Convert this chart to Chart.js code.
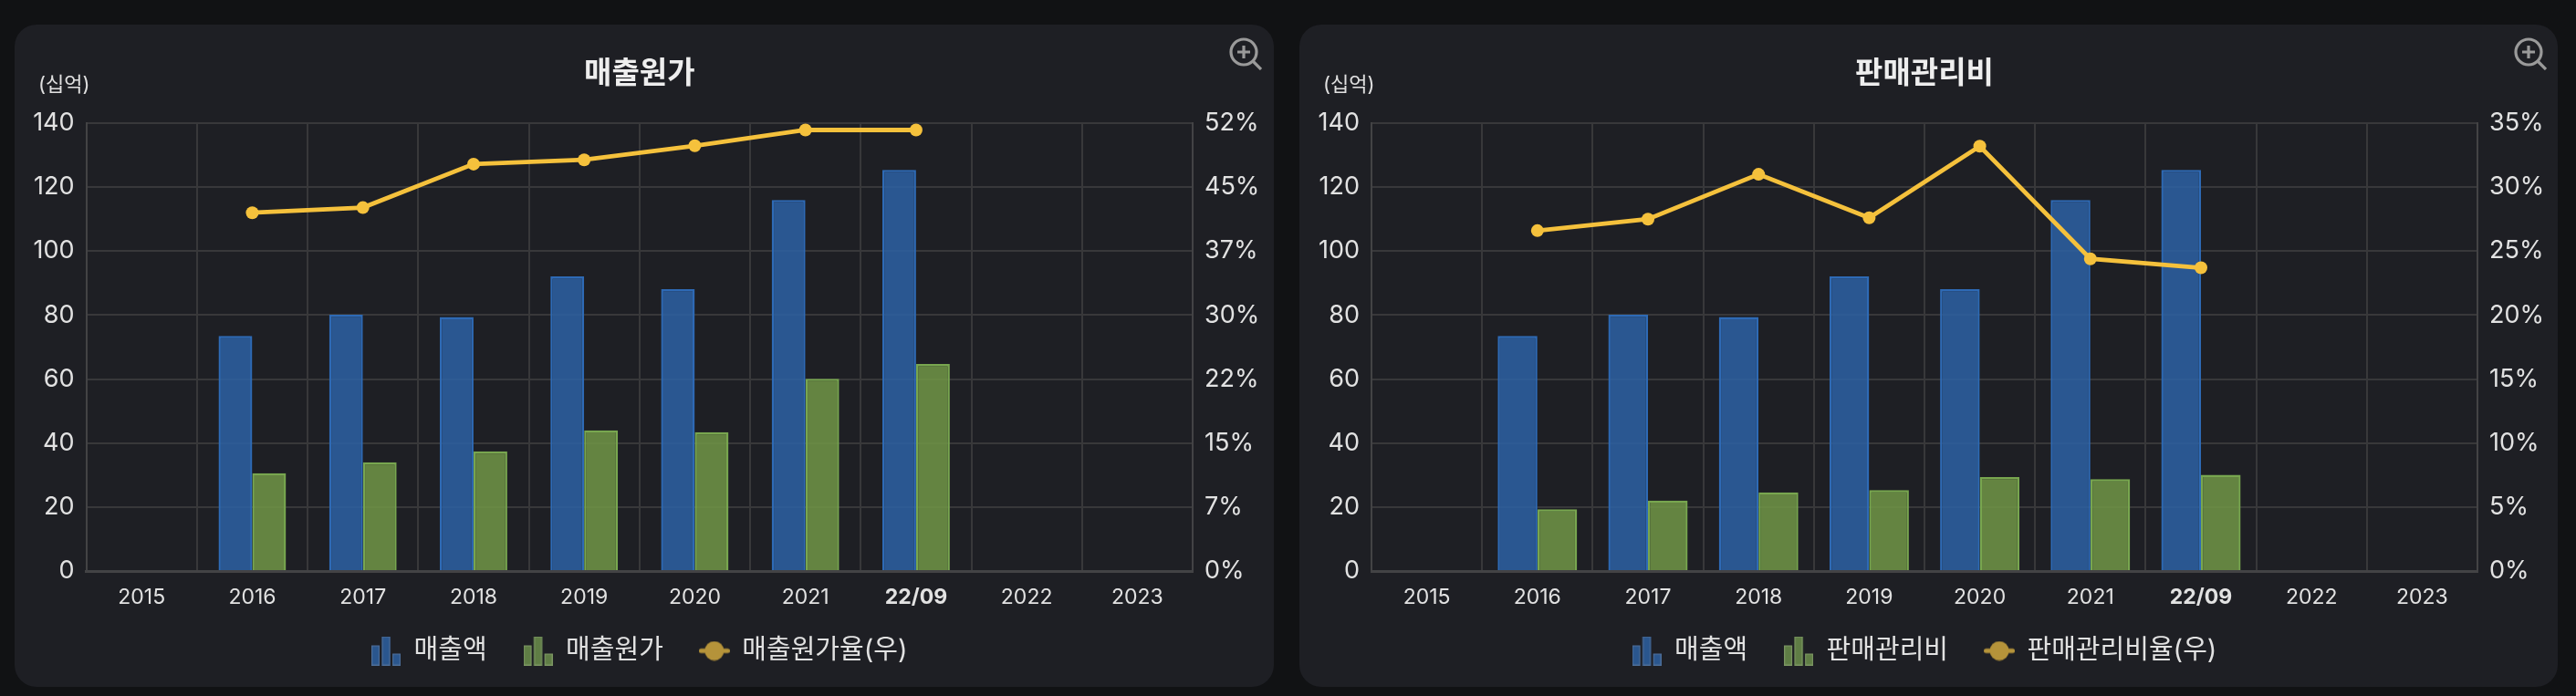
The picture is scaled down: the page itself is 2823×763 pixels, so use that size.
<!DOCTYPE html>
<html lang="ko">
<head>
<meta charset="utf-8">
<title>매출원가 / 판매관리비</title>
<script src="https://cdn.jsdelivr.net/npm/chart.js@4"></script>
<style>
html,body{margin:0;padding:0;background:#111214;width:2823px;height:763px;overflow:hidden;font-family:Inter,"Noto Sans CJK KR",sans-serif}
.card{position:absolute;top:27px;height:726px;background:#1e1f24;border-radius:24px}
.card canvas{position:absolute;left:0;top:0}
.unit{position:absolute;top:52px;color:#e0e0e0;font-size:22px;line-height:26px;white-space:nowrap}
.zoom{position:absolute;top:14px;width:36px;height:36px}
</style>
</head>
<body>
<div class="card" id="c1" style="left:16px;width:1380px">
  <canvas id="chart1" width="1380" height="726"></canvas>
  <div class="unit" style="left:26px">(십억)</div>
  <svg class="zoom" style="left:1331px" viewBox="0 0 36 36" fill="none" stroke="#9a9a9a" stroke-width="3.2"><circle cx="16" cy="16" r="14"/><path d="M9 16h14M16 9v14M26 26l9 9"/></svg>
</div>
<div class="card" id="c2" style="left:1424px;width:1379px">
  <canvas id="chart2" width="1379" height="726"></canvas>
  <div class="unit" style="left:26px">(십억)</div>
  <svg class="zoom" style="left:1331px" viewBox="0 0 36 36" fill="none" stroke="#9a9a9a" stroke-width="3.2"><circle cx="16" cy="16" r="14"/><path d="M9 16h14M16 9v14M26 26l9 9"/></svg>
</div>
<script>
const categories = ['2015','2016','2017','2018','2019','2020','2021','22/09','2022','2023'];
const revenue  = [null,73.5,80.1,79.4,92.1,88.1,116.0,125.4,null,null];
const cogs     = [null,30.6,34.0,37.4,44.0,43.4,60.1,64.7,null,null];
const cogsRate = [null,42.0,42.6,47.7,48.2,49.85,51.7,51.7,null,null];
const sga      = [null,19.3,22.05,24.6,25.3,29.4,28.7,30.05,null,null];
const sgaRate  = [null,26.6,27.5,31.0,27.6,33.2,24.4,23.7,null,null];

const FONT = 'Inter, "Noto Sans CJK KR", sans-serif';
const TEXT = '#e2e2e2', GRID = '#38383a', AXIS = '#434345';

function barIcon(fill, stroke){
  const c = document.createElement('canvas'); c.width = 32; c.height = 32;
  const g = c.getContext('2d'); g.fillStyle = fill; g.strokeStyle = stroke; g.lineWidth = 1.2;
  [[0,10,9,22],[11.5,0,9,32],[23,19,9,13]].forEach(r=>{
    g.fillRect(r[0],r[1],r[2],r[3]); g.strokeRect(r[0]+.6,r[1]+.6,r[2]-1.2,r[3]-1.2);
  });
  return c;
}
function lineIcon(col){
  const c = document.createElement('canvas'); c.width = 34; c.height = 22;
  const g = c.getContext('2d'); g.strokeStyle = col; g.fillStyle = col; g.lineWidth = 5; g.lineCap = 'round';
  g.beginPath(); g.moveTo(2.5,11); g.lineTo(31.5,11); g.stroke();
  g.beginPath(); g.arc(17,11,10.5,0,Math.PI*2); g.fill();
  return c;
}
const liftLegend = {id:'liftLegend', afterLayout(c){ c.legend.top -= 13; c.legend.bottom -= 13; }};

function build(id, title, barName, barData, rateName, rateData, rateMax, rateStep, catPct, rightW, leftW){
  const icons = [barIcon('#2a568e','#4c6d98'), barIcon('#5f7d45','#7b9562'), lineIcon('#b5933a')];
  new Chart(document.getElementById(id), {
    plugins:[liftLegend],
    data: {
      labels: categories,
      datasets: [
        {type:'bar', label:'매출액', data:revenue, yAxisID:'y', order:1,
         backgroundColor:'rgba(44,96,161,.88)', borderColor:'#2e6ab5', borderWidth:2.4,
         categoryPercentage:catPct, barPercentage:1},
        {type:'bar', label:barName, data:barData, yAxisID:'y', order:1,
         backgroundColor:'rgba(110,147,70,.88)', borderColor:'#78a64f', borderWidth:2.4,
         categoryPercentage:catPct, barPercentage:1},
        {type:'line', label:rateName, data:rateData, yAxisID:'y1', order:0,
         borderColor:'#f5c13c', backgroundColor:'#f5c13c', borderWidth:4.8, tension:0,
         pointRadius:7, pointBorderWidth:0, pointBackgroundColor:'#f5c13c', spanGaps:false}
      ]
    },
    options: {
      responsive:false, animation:false, devicePixelRatio:1,
      layout:{padding:{bottom:2}},
      plugins:{
        tooltip:{enabled:false},
        title:{display:true, text:title, color:'#eeeeee', fullSize:false,
          font:{family:FONT,size:33,weight:'700',lineHeight:1.2},
          padding:{top:34,bottom:34.4}},
        legend:{display:true, position:'bottom', fullSize:false,
          labels:{usePointStyle:true, pointStyleWidth:32, padding:40, color:TEXT,
            font:{family:FONT,size:29},
            generateLabels(chart){
              return chart.data.datasets.map((d,i)=>({text:d.label, pointStyle:icons[i], datasetIndex:i,
                fontColor:TEXT, lineWidth:0, hidden:false}));
            }}}
      },
      scales:{
        x:{offset:true,
          grid:{color:GRID,lineWidth:2,drawTicks:false,offset:true},
          border:{color:AXIS,width:3},
          ticks:{color:TEXT,padding:15,maxRotation:0,autoSkip:false,
            font:c=>({family:FONT,size:23,weight:c.index===7?'700':'400'})},
          afterFit(s){s.height=46;}},
        y:{position:'left',min:0,max:140,
          grid:{color:GRID,lineWidth:2,drawTicks:false},
          border:{color:AXIS,width:2},
          ticks:{color:TEXT,padding:13,stepSize:20,font:{family:FONT,size:27}},
          afterFit(s){s.width=leftW;}},
        y1:{position:'right',min:0,max:rateMax,
          grid:{display:false,drawTicks:false},
          border:{color:AXIS,width:2},
          ticks:{color:TEXT,padding:13,stepSize:rateStep,font:{family:FONT,size:27},
            callback:v=>Math.floor(v)+'%'},
          afterFit(s){s.width=rightW;}}
      }
    }
  });
}
build('chart1','매출원가','매출원가',cogs,'매출원가율(우)',cogsRate,52.5,7.5,0.61,89,78.6);
build('chart2','판매관리비','판매관리비',sga,'판매관리비율(우)',sgaRate,35,5,0.718,88,79);
</script>
</body>
</html>
